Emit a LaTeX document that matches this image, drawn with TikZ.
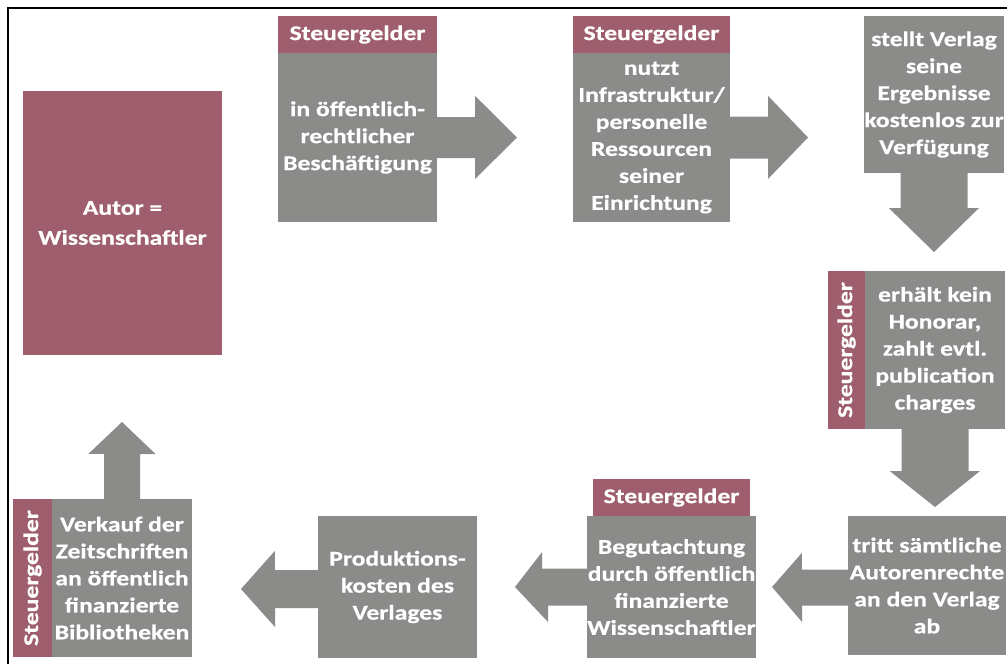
\documentclass[tikz,border=0pt]{standalone}
\usepackage{fontspec}
\newfontfamily\calb{Carlito}[UprightFont=* Bold,FakeStretch=1.22,FakeBold=0.6]
\definecolor{rose}{RGB}{158,94,110}
\definecolor{greybox}{RGB}{139,139,137}
\begin{document}
\begin{tikzpicture}[x=1pt,y=-1pt,
  txt/.style={text=white,align=center,font=\calb\fontsize{21}{27}\selectfont,inner sep=0pt},
  gbox/.style={txt,fill=greybox,minimum width=#1},
  rbox/.style={txt,fill=rose,minimum width=#1},
  arr/.style={fill=greybox},
  frame/.style={line width=2.5pt,black}]
\useasboundingbox (0,0) rectangle (1007,664);
\draw[frame] (8,664) -- (8,8) -- (1007,8);

% Autor
\node[rbox=199pt,minimum height=264pt,font=\calb\fontsize{21}{30}\selectfont] (autor) at (122.5,223) {Autor =\\Wissenschaftler};

% Box 1
\node[rbox=159pt,minimum height=37pt] (h1) at (357.5,34.5) {Steuergelder};
\node[gbox=159pt,minimum height=169pt] (b1) at (357.5,137.5) {in öffentlich-\\rechtlicher\\Beschäftigung};

% Box 2
\node[rbox=157pt,minimum height=37pt] (h2) at (651.5,34.5) {Steuergelder};
\node[gbox=157pt,minimum height=169pt] (b2) at (651.5,137.5) {nutzt\\Infrastruktur/\\personelle\\Ressourcen\\seiner\\Einrichtung};

% Box 3
\node[gbox=138pt,minimum height=157pt] (b3) at (934,94.5) {stellt Verlag\\seine\\Ergebnisse\\kostenlos zur\\Verfügung};

% Box 4
\node[gbox=140pt,minimum height=158pt] (b4) at (935,350) {erhält kein\\Honorar,\\zahlt evtl.\\publication\\charges};
\node[rbox=158pt,minimum height=37pt,rotate=90] (s4) at (846.5,350) {Steuergelder};

% Box 5
\node[gbox=158pt,minimum height=139pt] (b5) at (927,585.5) {tritt sämtliche\\Autorenrechte\\an den Verlag\\ab};

% Box 6
\node[rbox=157pt,minimum height=37pt] (h6) at (671.5,497.5) {Steuergelder};
\node[gbox=157pt,minimum height=142pt] (b6) at (671.5,587) {Begutachtung\\durch öffentlich\\finanzierte\\Wissenschaftler};

% Box 7
\node[gbox=159pt,minimum height=142pt] (b7) at (397.5,587) {Produktions-\\kosten des\\Verlages};

% Box 8
\node[gbox=140pt,minimum height=158pt] (b8) at (122,578) {Verkauf der\\Zeitschriften\\an öffentlich\\finanzierte\\Bibliotheken};
\node[rbox=158pt,minimum height=39pt,rotate=90] (s8) at (32.5,578) {Steuergelder};

% arrow tips
\coordinate (t1) at (517,137.5);
\coordinate (t2) at (808,137.5);
\coordinate (t3) at (934,252);
\coordinate (t4) at (935,507);
\coordinate (t5) at (772,587);
\coordinate (t6) at (515,587);
\coordinate (t7) at (241,589);
\coordinate (t8) at (122,422);

% right arrows
\fill[arr] (b1.east) ++(0,-20.5) -- ++(38,0) -- ++(0,-21) -- (t1) -- ++(-42,41.5) -- ++(0,-21) -- ++(-38,0) -- cycle;
\fill[arr] (b2.east) ++(0,-21) -- ++(38,0) -- ++(0,-20.5) -- (t2) -- ++(-40,41.5) -- ++(0,-20.5) -- ++(-38,0) -- cycle;
% down arrows
\fill[arr] (b3.south) ++(-33.5,0) -- ++(0,35) -- ++(-11.5,0) -- (t3) -- ++(45,-44) -- ++(-11.5,0) -- ++(0,-35) -- cycle;
\fill[arr] (b4.south) ++(-33.5,0) -- ++(0,42) -- ++(-11.5,0) -- (t4) -- ++(45,-36) -- ++(-11.5,0) -- ++(0,-42) -- cycle;
% left arrows
\fill[arr] (b5.west) ++(0,-16) -- ++(-46,0) -- ++(0,-16.5) -- (t5) -- ++(30,35) -- ++(0,-16.5) -- ++(46,0) -- cycle;
\fill[arr] (b6.west) ++(0,-18.5) -- ++(-45,0) -- ++(0,-16.5) -- (t6) -- ++(33,35) -- ++(0,-16.5) -- ++(45,0) -- cycle;
\fill[arr] (b7.west) ++(0,-17) -- ++(-43,0) -- ++(0,-19) -- (t7) -- ++(34,38) -- ++(0,-19) -- ++(43,0) -- cycle;
% up arrow
\fill[arr] (b8.north) ++(-18,0) -- ++(0,-45) -- ++(-15.5,0) -- (t8) -- ++(33.5,32) -- ++(-15.5,0) -- ++(0,45) -- cycle;
\end{tikzpicture}
\end{document}
